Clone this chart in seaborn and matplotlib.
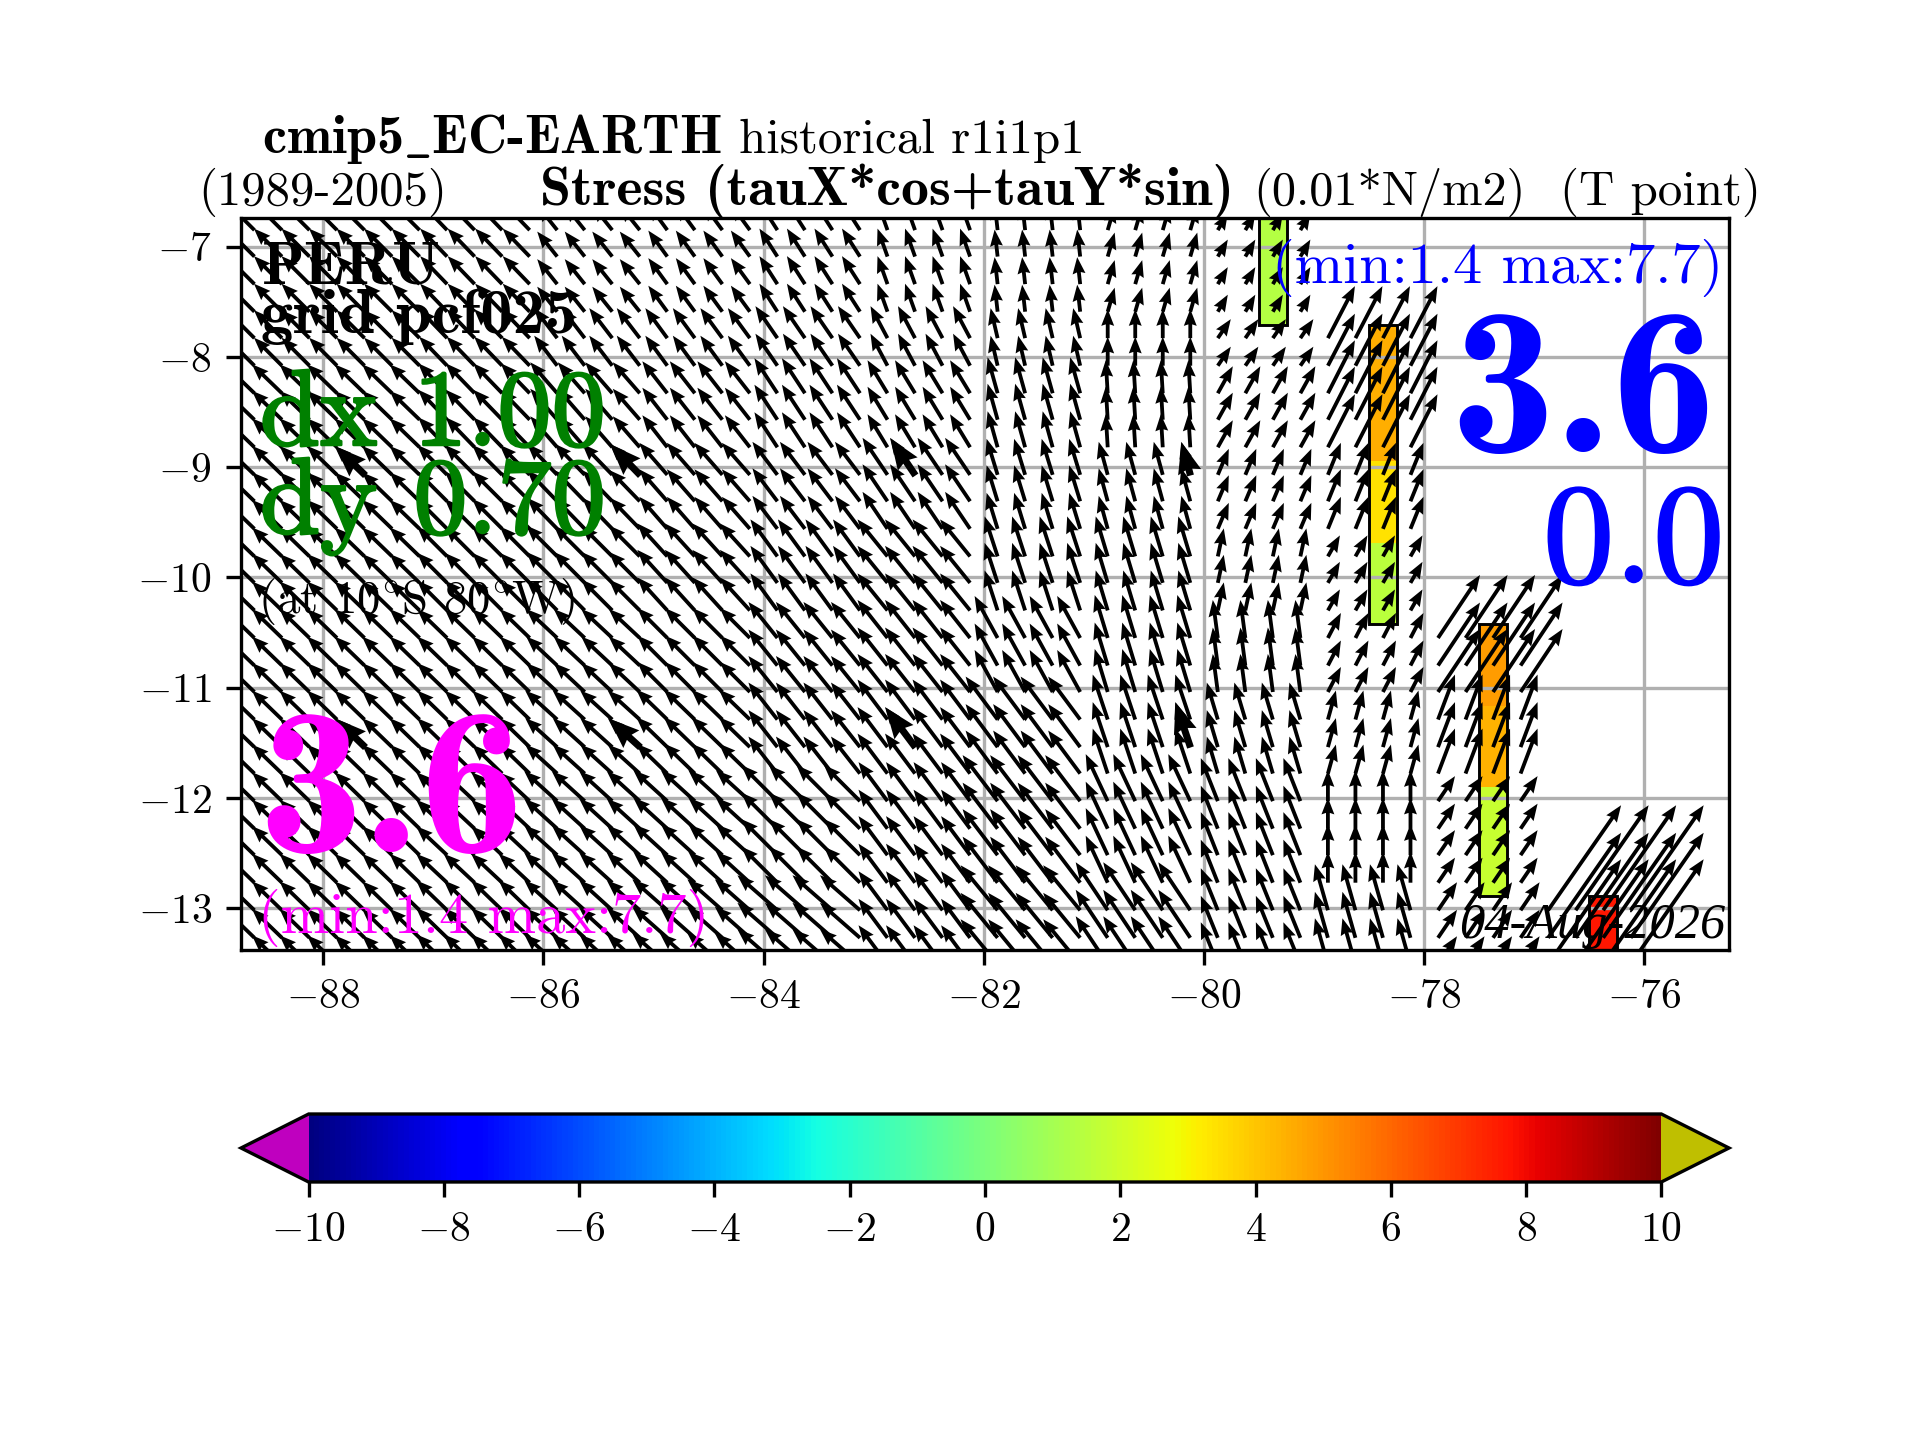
import numpy as np
import matplotlib
matplotlib.use("Agg")
import matplotlib.pyplot as plt
import matplotlib.patheffects as pe
from matplotlib.cm import ScalarMappable
from matplotlib.colors import Normalize
from matplotlib.patches import Rectangle
import seaborn as sns

nan = np.nan
# Grid nodes of the arrows
LATS = [-6.85, -7.09, -7.34, -7.59, -7.83, -8.08, -8.33, -8.57, -8.82, -9.07, -9.31, -9.56, -9.81, -10.05,
        -10.30, -10.55, -10.80, -11.04, -11.29, -11.54, -11.78, -12.03, -12.28, -12.52, -12.77, -13.02, -13.27, -13.51]
BLOCK_LON = [-89, -88, -87, -86, -85, -84, -83, -82, -81, -80, -79, -78, -77]
SUB_LON = [0.125, 0.375, 0.625, 0.875]
BAND_ROWS = [4, 2, 3, 3, 3, 3, 3, 4, 3]
# Stress components per lat band (rows) and 1-degree lon block (columns)
U = [
    [-2.8, -2.8, -2.7, -2.0, -1.9, -1.8, -1.0, -0.3, 0.7, 1.0, nan, nan, nan],
    [-2.8, -2.8, -2.8, -2.3, -2.2, -2.2, -1.7, -0.7, 0.0, 1.3, 2.7, nan, nan],
    [-3.0, -3.0, -2.9, -2.7, -2.5, -2.3, -2.0, -1.0, -0.2, 1.5, 2.7, nan, nan],
    [-3.0, -3.0, -3.0, -3.0, -2.8, -2.5, -2.5, -1.1, -0.9, 1.1, 1.3, nan, nan],
    [-3.0, -3.0, -3.0, -3.1, -3.0, -2.7, -3.0, -1.3, -1.2, 0.6, 1.2, nan, nan],
    [-3.0, -3.0, -3.0, -3.1, -3.0, -2.9, -3.0, -2.3, -1.3, -0.5, 1.3, 4.2, nan],
    [-3.0, -3.0, -3.0, -3.2, -3.1, -2.9, -3.0, -3.2, -1.5, -1.1, 0.8, 1.7, nan],
    [-3.0, -3.0, -3.1, -3.3, -3.4, -3.6, -2.9, -3.5, -2.2, -1.7, 0.0, 1.7, nan],
    [-3.0, -3.0, -3.1, -3.3, -3.5, -4.0, -2.9, -3.7, -3.2, -1.7, -1.3, 1.9, 7.3],
]
V = [
    [2.8, 2.8, 2.8, 2.5, 2.6, 2.8, 2.8, 2.7, 2.4, 1.7, nan, nan, nan],
    [2.8, 2.8, 2.9, 3.0, 3.0, 3.2, 3.2, 3.0, 2.9, 1.9, 5.2, nan, nan],
    [2.9, 2.9, 3.0, 3.1, 3.2, 3.5, 3.3, 3.6, 3.3, 2.7, 5.3, nan, nan],
    [2.9, 2.9, 3.0, 3.1, 3.2, 3.3, 3.7, 3.6, 3.3, 2.6, 3.2, nan, nan],
    [2.9, 2.9, 3.0, 3.1, 3.3, 3.7, 3.7, 4.0, 4.0, 2.8, 2.1, nan, nan],
    [2.9, 2.9, 2.9, 2.9, 3.0, 3.6, 3.8, 4.2, 4.3, 3.8, 2.5, 6.3, nan],
    [2.9, 2.9, 2.9, 2.9, 3.0, 3.7, 4.0, 4.3, 4.5, 3.7, 2.9, 4.5, nan],
    [2.9, 2.9, 2.9, 3.0, 3.1, 3.6, 3.9, 4.6, 4.7, 4.3, 3.1, 2.5, nan],
    [2.9, 2.9, 3.0, 3.0, 3.1, 3.5, 3.9, 4.5, 4.8, 4.2, 4.6, 2.8, 10.5],
]
# Nodes re-drawn with a heavier arrow
BIG_LON = [-87.625, -85.125, -82.625, -80.125]
BIG_LAT = [-9.07, -11.54]
# Coloured coastal cells: lon node, first row, values from the top
BAR_LON = [-79.375, -78.375, -77.375, -76.375]
BAR_FIRST = [0, 4, 15, 25]
BAR_VALUES = [
    [1.4, 1.4, 1.4, 1.4],
    [4.5, 4.5, 4.5, 4.5, 4.5, 3.4, 3.4, 3.4, 1.5, 1.5, 1.5],
    [4.9, 4.9, 4.9, 4.4, 4.4, 4.4, 1.8, 1.8, 1.8, 1.8],
    [7.7, 7.7, 7.7],
]
XTICKS = [-88, -86, -84, -82, -80, -78, -76]
YTICKS = [-7, -8, -9, -10, -11, -12, -13]
CBAR_TICKS = [-10, -8, -6, -4, -2, 0, 2, 4, 6, 8, 10]


def lab(v):
    return f"$-{abs(v)}$" if v < 0 else f"${v}$"


sns.set_style("ticks")
plt.rcParams.update({
    "font.family": ["cmr10"], "mathtext.fontset": "cm", "font.size": 10,
    "axes.edgecolor": "black", "axes.linewidth": 0.8, "text.color": "black",
    "xtick.color": "black", "ytick.color": "black", "axes.labelcolor": "black",
    "xtick.major.size": 3.5, "ytick.major.size": 3.5, "xtick.major.width": 0.8, "ytick.major.width": 0.8,
    "xtick.labelsize": 10, "ytick.labelsize": 10, "axes.grid": False,
    "axes.formatter.use_mathtext": True,
})

lons = np.array([b + s for b in BLOCK_LON for s in SUB_LON])
lats = np.array(LATS)
band_of_row = np.repeat(np.arange(len(BAND_ROWS)), BAND_ROWS)
col_block = np.repeat(np.arange(len(BLOCK_LON)), len(SUB_LON))
uu = np.array(U)[band_of_row][:, col_block]
vv = np.array(V)[band_of_row][:, col_block]
X, Y = np.meshgrid(lons, lats)

fig = plt.figure(figsize=(6.4, 4.8), dpi=300)
ax = fig.add_axes([241 / 1920, 1 - 949.5 / 1440, (1729 - 241) / 1920, (949.5 - 218) / 1440])

cmap = matplotlib.colormaps["jet"].copy()
cmap.set_under((0.75, 0, 0.75))
cmap.set_over((0.75, 0.75, 0))
norm = Normalize(-10, 10)

# coloured cells
lat_edges = np.concatenate([[lats[0] + 0.124], (lats[:-1] + lats[1:]) / 2, [lats[-1] - 0.124]])
lon_edges = np.concatenate([lons - 0.125, [lons[-1] + 0.125]])
Z = np.full((len(lats), len(lons)), nan)
for blon, first, vals in zip(BAR_LON, BAR_FIRST, BAR_VALUES):
    j = int(np.argmin(np.abs(lons - blon)))
    Z[first:first + len(vals), j] = vals
    ax.add_patch(Rectangle((lon_edges[j], lat_edges[first + len(vals)]), 0.25,
                           lat_edges[first] - lat_edges[first + len(vals)],
                           fill=False, ec="black", lw=0.7, zorder=0.9))
ax.pcolormesh(lon_edges, lat_edges, np.ma.masked_invalid(Z), cmap=cmap, norm=norm, zorder=0.5)

qkw = dict(angles="uv", scale_units="inches", scale=30, units="inches", pivot="tail", color="black", zorder=1,
           headwidth=3.4, headlength=4.4, headaxislength=4.0)
ok = np.isfinite(uu)
ax.quiver(X[ok], Y[ok], uu[ok], vv[ok], width=3.8 / 300, **qkw)
for la in BIG_LAT:
    for lo in BIG_LON:
        i = int(np.argmin(np.abs(lats - la)))
        j = int(np.argmin(np.abs(lons - lo)))
        ax.quiver([lons[j]], [lats[i]], [uu[i, j]], [vv[i, j]], width=7 / 300, **qkw)

ax.set_xlim(-88.747, -75.232)
ax.set_ylim(-13.376, -6.74)
ax.set_xticks(XTICKS, labels=[lab(v) for v in XTICKS])
ax.set_yticks(YTICKS, labels=[lab(v) for v in YTICKS])
ax.grid(True, color="#b0b0b0", lw=0.8)

# colour bar
cax = fig.add_axes([241 / 1920, 1 - 1182 / 1440, (1729 - 241) / 1920, 68 / 1440])
cb = fig.colorbar(ScalarMappable(norm=norm, cmap=cmap), cax=cax, orientation="horizontal", extend="both")
cb.set_ticks(CBAR_TICKS, labels=[lab(v) for v in CBAR_TICKS])
cb.outline.set_linewidth(0.8)
cb.outline.set_edgecolor("black")


def txt(x, y, s, heavy=0, **kw):
    t = fig.text(x / 1920, 1 - y / 1440, s, va="baseline", **kw)
    if heavy:
        t.set_path_effects([pe.withStroke(linewidth=heavy, foreground=kw.get("color", "black"))])


BOLD = dict(family="cmb10")
txt(262, 153, r"cmip5$\_$EC-EARTH", fontsize=13, **BOLD)
txt(739, 153, "historical r1i1p1", fontsize=11.75)
txt(198, 205, "(1989-2005)", fontsize=11.7)
txt(540, 205, "Stress (tauX*cos+tauY*sin)", fontsize=13.4, **BOLD)
txt(1253, 205, "(0.01*N/m2)", fontsize=11.6)
txt(1560, 205, "(T point)", fontsize=11.75)
txt(262, 283, "PERU", fontsize=15, **BOLD)
txt(261, 333, "grid pcf025", fontsize=15.5, **BOLD)
txt(260, 445, "dx 1.00", fontsize=26, color="green", heavy=0.6)
txt(260, 533, "dy 0.70", fontsize=26, color="green", heavy=0.6)
txt(258, 613, r"(at 10$^{\circ}$S 80$^{\circ}$W)", fontsize=11.25)
txt(258, 852, "3.6", fontsize=50, color="magenta", **BOLD)
txt(258, 933, "(min:1.4 max:7.7)", fontsize=14, color="magenta")
txt(1723, 283, "(min:1.4 max:7.7)", fontsize=14, color="blue", ha="right")
txt(1716, 452, "3.6", fontsize=50, color="blue", ha="right", **BOLD)
txt(1724, 582, "0.0", fontsize=34, color="blue", ha="right", heavy=0.6)
txt(1725, 938, "04-Aug-2026", fontsize=12.1, family="Liberation Serif", style="italic", ha="right")

fig.savefig("out.png", dpi=300)
